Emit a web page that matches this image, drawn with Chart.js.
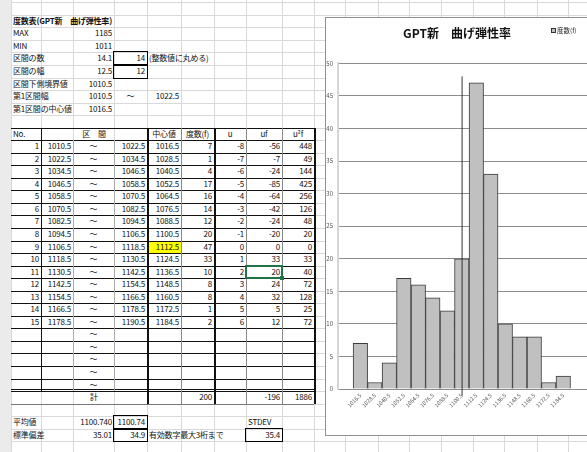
<!DOCTYPE html>
<html>
<head>
<meta charset="utf-8">
<script src="https://cdn.jsdelivr.net/npm/chart.js@4.4.1/dist/chart.umd.min.js"></script>
<style>
    html, body { margin: 0; padding: 0; width: 587px; height: 452px; overflow: hidden; background: #fff; font-family: 'Noto Sans CJK JP', sans-serif; }
    #sheet { position: absolute; left: 0; top: 0; width: 600px; height: 452px; }
    .c { position: absolute; font-size: 8px; white-space: nowrap; color: #111; padding: 0 2px; box-sizing: border-box; letter-spacing: -0.2px; }
    .ln { position: absolute; }
    #frame { position: absolute; left: 325px; top: 17px; width: 264px; height: 419px; border: 1px solid #8f8f8f; background: #fff; box-sizing: border-box; }
    #chartBox { position: relative; width: 262px; height: 417px; }
    #legendBox { position: absolute; left: 551px; top: 25px; font-size: 6.5px; color: #222; white-space: nowrap; }
    #legendBox span.sw { display: inline-block; width: 3px; height: 3px; border: 1px solid #333; background: #c0c0c0; margin-right: 1px; vertical-align: 0px; }
</style>
</head>
<body>
<div id="sheet"></div>
<div id="frame"><div id="chartBox"><canvas id="histogram"></canvas></div></div>
<div id="legendBox"><span class="sw"></span>度数(f)</div>

<script>
// 度数分布のデータ
const lowerBounds = [1010.5, 1022.5, 1034.5, 1046.5, 1058.5, 1070.5, 1082.5, 1094.5, 1106.5, 1118.5, 1130.5, 1142.5, 1154.5, 1166.5, 1178.5];
const upperBounds = [1022.5, 1034.5, 1046.5, 1058.5, 1070.5, 1082.5, 1094.5, 1106.5, 1118.5, 1130.5, 1142.5, 1154.5, 1166.5, 1178.5, 1190.5];
const classCenters = [1016.5, 1028.5, 1040.5, 1052.5, 1064.5, 1076.5, 1088.5, 1100.5, 1112.5, 1124.5, 1136.5, 1148.5, 1160.5, 1172.5, 1184.5];
const tickLabels = ['1016.5', '1028.5', '1040.5', '1052.5', '1064.5', '1076.5', '1088.5', '1100.5', '1112.5', '1124.5', '1136.5', '1148.5', '1160.5', '1172.5', '1184.5'];
const frequencies = [7, 1, 4, 17, 16, 14, 12, 20, 47, 33, 10, 8, 8, 1, 2];
const uValues = [-8, -7, -6, -5, -4, -3, -2, -1, 0, 1, 2, 3, 4, 5, 6];
const ufValues = [-56, -7, -24, -85, -64, -42, -24, -20, 0, 33, 20, 24, 32, 5, 12];
const u2fValues = [448, 49, 144, 425, 256, 126, 48, 20, 0, 33, 40, 72, 128, 25, 72];
const meanValue = 1100.74;
const meanLineY = [-1, 48];

// シートの格子
const colX = [0, 11, 41, 73, 114, 147, 181, 214, 246, 282, 314, 345, 378, 409, 441, 473, 504, 537, 568, 600];
const ROW_H = 12.54, ROW_TOP = 2.3;
const rowY = r => ROW_TOP + r * ROW_H;
const A = 1, B = 2, C = 3, D = 4, E = 5, F = 6, G = 7, H = 8, I = 9;
const sheet = document.getElementById('sheet');

function line(x, y, w, h, color) {
    const d = document.createElement('div');
    d.className = 'ln';
    d.style.left = x + 'px'; d.style.top = y + 'px';
    d.style.width = w + 'px'; d.style.height = h + 'px';
    d.style.background = color;
    sheet.appendChild(d);
    return d;
}

function cell(c1, r, text, align, c2, extra) {
    const d = document.createElement('div');
    d.className = 'c';
    d.style.left = colX[c1] + 'px';
    d.style.top = rowY(r) + 'px';
    d.style.width = (colX[(c2 || c1) + 1] - colX[c1]) + 'px';
    d.style.height = ROW_H + 'px';
    d.style.lineHeight = ROW_H + 'px';
    d.style.textAlign = align || 'right';
    d.textContent = text;
    if (extra) Object.assign(d.style, extra);
    sheet.appendChild(d);
}

function box(c, r, color, w) {
    const d = document.createElement('div');
    d.className = 'ln';
    d.style.left = (colX[c] - 1) + 'px';
    d.style.top = (rowY(r) - 1) + 'px';
    d.style.width = (colX[c + 1] - colX[c] + 2) + 'px';
    d.style.height = (ROW_H + 2) + 'px';
    d.style.border = (w || 1.5) + 'px solid ' + (color || '#000');
    d.style.boxSizing = 'border-box';
    sheet.appendChild(d);
}

// 左端の帯とグリッド線
line(0, 0, 11, 452, '#ebebeb');
for (let i = 1; i < colX.length; i++) line(colX[i], 0, 1, 452, '#d9d9d9');
for (let r = 0; r < 37; r++) line(11, rowY(r), 589, 1, '#d9d9d9');

// 黄色のセル
line(colX[E], rowY(19), colX[F] - colX[E], ROW_H, '#ffff00');

// 上部の計算欄
cell(A, 1, '度数表(GPT新　曲げ弾性率)', 'left', A, { fontWeight: 'bold' });
cell(A, 2, 'MAX', 'left'); cell(C, 2, '1185');
cell(A, 3, 'MIN', 'left'); cell(C, 3, '1011');
cell(A, 4, '区間の数', 'left'); cell(C, 4, '14.1'); cell(D, 4, '14'); cell(E, 4, '(整数値に丸める)', 'left');
cell(A, 5, '区間の幅', 'left'); cell(C, 5, '12.5'); cell(D, 5, '12');
cell(A, 6, '区間下側境界値', 'left'); cell(C, 6, '1010.5');
cell(A, 7, '第1区間幅', 'left'); cell(C, 7, '1010.5'); cell(D, 7, '～', 'center'); cell(E, 7, '1022.5');
cell(A, 8, '第1区間の中心値', 'left'); cell(C, 8, '1016.5');
box(D, 4); box(D, 5);

// 表の見出し
cell(A, 10, 'No.', 'left');
cell(B, 10, '区　間', 'center', D);
cell(E, 10, '中心値', 'center');
cell(F, 10, '度数(f)', 'center');
cell(G, 10, 'u', 'center');
cell(H, 10, 'uf', 'center');
cell(I, 10, 'u²f', 'center');

// 表の本体
for (let i = 0; i < 20; i++) {
    const r = 11 + i;
    cell(C, r, '～', 'center');
    if (i >= frequencies.length) continue;
    cell(A, r, String(i + 1));
    cell(B, r, lowerBounds[i].toFixed(1));
    cell(D, r, upperBounds[i].toFixed(1));
    cell(E, r, classCenters[i].toFixed(1));
    cell(F, r, String(frequencies[i]));
    cell(G, r, String(uValues[i]));
    cell(H, r, String(ufValues[i]));
    cell(I, r, String(u2fValues[i]));
}
cell(B, 31, '計', 'center', D);
cell(F, 31, '200');
cell(H, 31, '-196');
cell(I, 31, '1886');

// 表の罫線
for (let r = 10; r <= 31; r++) line(11, rowY(r), colX[10] - 11, 1, '#111');
line(11, rowY(31) - 2, colX[10] - 11, 1, '#111');
line(11, rowY(32), colX[10] - 11, 1, '#777');
[colX[B], colX[C], colX[D]].forEach(x => line(x, rowY(x === colX[B] ? 10 : 11), 1, rowY(31) - rowY(x === colX[B] ? 10 : 11), x === colX[B] ? '#111' : '#aaa'));
[colX[F], colX[H], colX[I]].forEach(x => line(x, rowY(10), 1, rowY(32) - rowY(10), '#888'));
[colX[E], colX[G], colX[10]].forEach(x => line(x, rowY(10), 1.5, rowY(32) - rowY(10), '#111'));

// 選択中のセル
box(H, 21, '#217346', 2);
line(colX[I] - 2, rowY(22) - 2, 4, 4, '#217346');

// 下部の統計値
cell(A, 33, '平均値', 'left'); cell(C, 33, '1100.740'); cell(D, 33, '1100.74'); cell(H, 33, 'STDEV', 'left');
cell(A, 34, '標準偏差', 'left'); cell(C, 34, '35.01'); cell(D, 34, '34.9'); cell(E, 34, '有効数字最大3桁まで', 'left');
cell(H, 34, '35.4');
box(D, 33); box(D, 34); box(H, 34);

// ヒストグラム
Chart.defaults.font.family = "'Noto Sans CJK JP', sans-serif";

new Chart(document.getElementById('histogram'), {
    type: 'bar',
    data: {
        datasets: [{
            type: 'line',
            label: '平均値',
            data: meanLineY.map(y => ({ x: meanValue, y: y })),
            borderColor: '#333',
            borderWidth: 1,
            pointRadius: 0,
            clip: false,
            order: 0
        }, {
            label: '度数(f)',
            data: classCenters.map((x, i) => ({ x: x, y: frequencies[i] })),
            backgroundColor: '#c0c0c0',
            borderColor: '#3a3a3a',
            borderWidth: 1,
            barPercentage: 1,
            categoryPercentage: 1,
            order: 1
        }]
    },
    options: {
        responsive: true,
        maintainAspectRatio: false,
        animation: false,
        layout: { padding: 0 },
        plugins: {
            legend: { display: false },
            tooltip: { enabled: false },
            title: {
                display: true,
                text: 'GPT新　曲げ弾性率',
                color: '#111',
                font: { size: 12, weight: 'bold' },
                padding: { top: 8, bottom: 23 }
            }
        },
        scales: {
            x: {
                type: 'linear',
                min: 998,
                max: 1205,
                offset: false,
                grid: { display: false, drawTicks: false },
                border: { display: true, color: '#8c8c8c' },
                afterBuildTicks: s => { s.ticks = classCenters.map(v => ({ value: v })); },
                afterFit: s => { s.height = 46; },
                ticks: {
                    autoSkip: false,
                    minRotation: 45,
                    maxRotation: 45,
                    padding: 3,
                    color: '#555',
                    font: { size: 5.5 },
                    callback: (v, i) => tickLabels[i]
                }
            },
            y: {
                min: 0,
                max: 50,
                grid: { color: '#8c8c8c', drawTicks: false },
                border: { display: true, color: '#d6d6d6', width: 2 },
                afterFit: s => { s.width = 12; },
                ticks: { stepSize: 5, padding: 5, color: '#555', font: { size: 6 } }
            }
        }
    }
});
</script>
</body>
</html>
